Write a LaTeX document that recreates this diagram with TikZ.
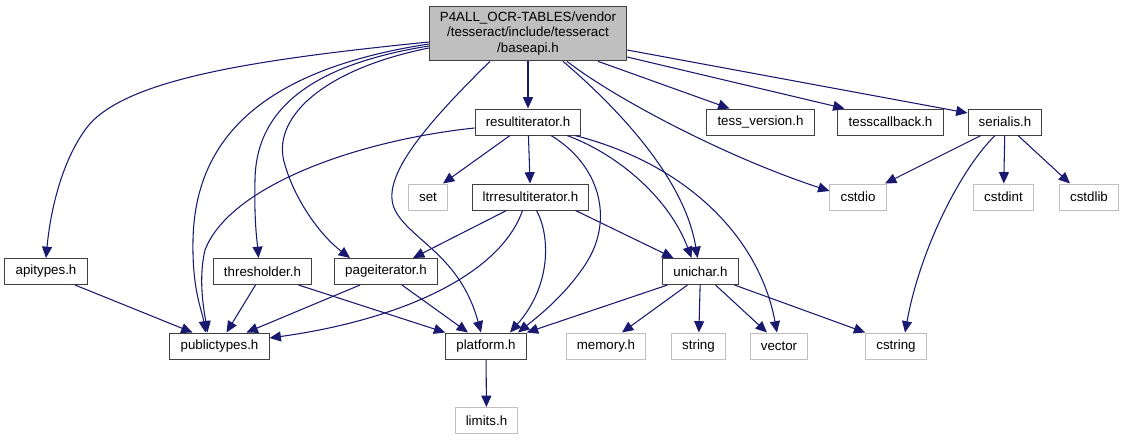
\documentclass[tikz,border=0pt]{standalone}
\usepackage{fontspec}
\setmainfont{Liberation Sans}
\usetikzlibrary{arrows.meta}
\definecolor{enlace}{HTML}{191970}
\definecolor{bordeosc}{HTML}{404040}
\definecolor{gris}{HTML}{BFBFBF}

\begin{document}
\begin{tikzpicture}[x=0.75pt, y=-0.75pt,
  cabecera/.style={draw=bordeosc, line width=0.75pt, fill=white, minimum height=19.5pt,
    inner xsep=8pt, inner ysep=0pt, font=\fontsize{10}{11.5}\selectfont},
  sistema/.style={cabecera, draw=gris},
  incluye/.style={draw=enlace, line width=0.8pt, -{Triangle[length=8.5pt,width=7.5pt]}}]
  \useasboundingbox (0,0) rectangle (1125,440);
  % el fichero de arriba, en gris
  \node[cabecera, fill=gris, align=center, minimum width=142.5pt, minimum height=41pt] (baseapi)
    at (528,33.5) {P4ALL\_OCR-TABLES/vendor\\/tesseract/include/tesseract\\/baseapi.h};
  % las cabeceras del proyecto
  \node[cabecera] (resiter) at (528,122) {resultiterator.h};
  \node[cabecera] (tessver) at (760.5,122) {tess\_version.h};
  \node[cabecera] (tesscb) at (890.5,122) {tesscallback.h};
  \node[cabecera] (serialis) at (1005,122) {serialis.h};
  \node[cabecera] (ltriter) at (530.5,197) {ltrresultiterator.h};
  \node[cabecera] (apitypes) at (46,271.5) {apitypes.h};
  \node[cabecera] (thresh) at (262.5,271.5) {thresholder.h};
  \node[cabecera] (pageiter) at (386,271.5) {pageiterator.h};
  \node[cabecera] (unichar) at (700.5,271.5) {unichar.h};
  \node[cabecera] (pubtypes) at (219.5,346) {publictypes.h};
  \node[cabecera] (platform) at (486,346) {platform.h};
  % las del sistema, con borde gris
  \foreach \nombre/\texto/\x/\y in {set/set/428/197, cstdio/cstdio/858/197, cstdint/cstdint/1003.5/197,
      cstdlib/cstdlib/1089/197, memory/memory.h/606/346, string/string/698.5/346,
      vector/vector/779/346, cstring/cstring/896/346, limits/limits.h/486.5/420.5} {
    \node[sistema] (\nombre) at (\x,\y) {\texto};
  }
  % lo que incluye baseapi.h
  \draw[incluye] (baseapi) -- (resiter);
  \draw[incluye] ([shift={(0,8.5)}]baseapi.west) .. controls (250,60) and (120,80) .. (85,130)
    .. controls (60,165) and (50,215) .. (apitypes.north);
  \draw[incluye] ([shift={(0,10.5)}]baseapi.west) .. controls (260,70) and (195,140) .. (193,240)
    .. controls (192,290) and (202,310) .. ([shift={(-14,0)}]pubtypes.north);
  \draw[incluye] ([shift={(0,12.5)}]baseapi.west) .. controls (310,65) and (256,110) .. (255,180)
    .. controls (254,220) and (257,240) .. ([shift={(-4,0)}]thresh.north);
  \draw[incluye] ([shift={(0,14.5)}]baseapi.west) .. controls (320,70) and (270,120) .. (285,165)
    .. controls (295,200) and (320,235) .. ([shift={(-36,0)}]pageiter.north);
  \draw[incluye] ([shift={(-38,0)}]baseapi.south) .. controls (420,130) and (380,180) .. (395,210)
    .. controls (410,240) and (460,255) .. ([shift={(-5,0)}]platform.north);
  \draw[incluye] ([shift={(35,0)}]baseapi.south) .. controls (620,110) and (685,180) .. ([shift={(-3,0)}]unichar.north);
  \draw[incluye] ([shift={(39,0)}]baseapi.south) .. controls (610,95) and (720,155) .. ([shift={(0,-6)}]cstdio.west);
  \draw[incluye] ([shift={(70,0)}]baseapi.south) -- ([shift={(-31,0)}]tessver.north);
  \draw[incluye] ([shift={(0,23.5)}]baseapi.east) -- ([shift={(-46,0)}]tesscb.north);
  \draw[incluye] ([shift={(0,16.5)}]baseapi.east) -- ([shift={(0,-9)}]serialis.west);
  % resultiterator.h
  \draw[incluye] ([shift={(-18,0)}]resiter.south) -- ([shift={(15,0)}]set.north);
  \draw[incluye] (resiter) -- (ltriter);
  \draw[incluye] ([shift={(0,6)}]resiter.west) .. controls (360,140) and (230,185) .. (205,250)
    .. controls (198,280) and (204,310) .. ([shift={(-12,0)}]pubtypes.north);
  \draw[incluye] ([shift={(23,0)}]resiter.south) .. controls (600,165) and (615,220) .. (585,265)
    .. controls (565,295) and (540,315) .. ([shift={(32,0)}]platform.north);
  \draw[incluye] ([shift={(39,0)}]resiter.south) .. controls (620,155) and (670,200) .. ([shift={(-9,0)}]unichar.north);
  \draw[incluye] ([shift={(47,0)}]resiter.south) .. controls (690,165) and (760,240) .. ([shift={(-2,0)}]vector.north);
  % ltrresultiterator.h
  \draw[incluye] ([shift={(-24,0)}]ltriter.south) -- ([shift={(27,0)}]pageiter.north);
  \draw[incluye] ([shift={(-8,0)}]ltriter.south) .. controls (500,275) and (400,320) .. ([shift={(0,-8)}]pubtypes.east);
  \draw[incluye] ([shift={(6,0)}]ltriter.south) .. controls (550,235) and (552,285) .. ([shift={(24,0)}]platform.north);
  \draw[incluye] ([shift={(45,0)}]ltriter.south) -- ([shift={(-27,0)}]unichar.north);
  % la fila de abajo
  \draw[incluye] ([shift={(29,0)}]apitypes.south) -- ([shift={(-27,0)}]pubtypes.north);
  \draw[incluye] ([shift={(-7,0)}]thresh.south) -- ([shift={(7,0)}]pubtypes.north);
  \draw[incluye] ([shift={(36,0)}]thresh.south) -- (platform.north west);
  \draw[incluye] ([shift={(-26,0)}]pageiter.south) -- ([shift={(27,0)}]pubtypes.north);
  \draw[incluye] ([shift={(16,0)}]pageiter.south) -- ([shift={(-18,0)}]platform.north);
  \draw[incluye] (platform) -- (limits);
  % unichar.h
  \draw[incluye] ([shift={(-33,0)}]unichar.south) -- (platform.north east);
  \draw[incluye] ([shift={(-13,0)}]unichar.south) -- ([shift={(16,0)}]memory.north);
  \draw[incluye] (unichar) -- (string);
  \draw[incluye] ([shift={(15,0)}]unichar.south) -- ([shift={(-12,0)}]vector.north);
  \draw[incluye] ([shift={(34,0)}]unichar.south) -- (cstring.north west);
  % serialis.h
  \draw[incluye] ([shift={(-24,0)}]serialis.south) -- ([shift={(27,0)}]cstdio.north);
  \draw[incluye] (serialis) -- (cstdint);
  \draw[incluye] ([shift={(13,0)}]serialis.south) -- ([shift={(-19,0)}]cstdlib.north);
  \draw[incluye] ([shift={(-10,0)}]serialis.south) .. controls (960,170) and (920,250) .. ([shift={(9,0)}]cstring.north);
\end{tikzpicture}
\end{document}
